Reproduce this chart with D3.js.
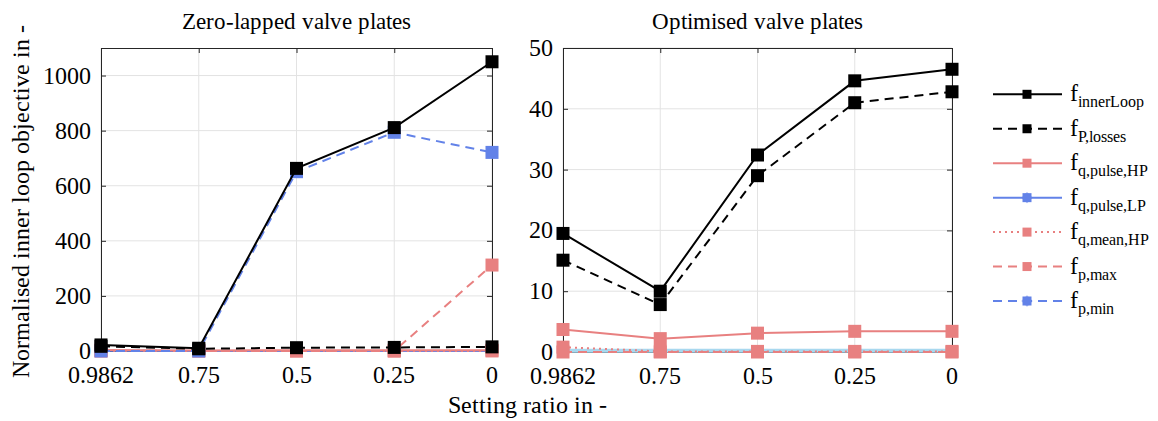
<!DOCTYPE html>
<html>
<head>
<meta charset="utf-8">
<script src="https://cdn.jsdelivr.net/npm/d3@7"></script>
<style>
  @font-face { font-family: 'ChartSerif'; src: local('Liberation Serif'), local('LiberationSerif'), local('LiberationSerif-Regular'); }
  body { margin: 0; background: #fff; }
</style>
</head>
<body>
<div id="chart"></div>
<script>
// setting ratios (categorical, shown left to right)
const ratios = ['0.9862', '0.75', '0.5', '0.25', '0'];

// zero-lapped valve plates
const zlInnerLoop = [22, 10, 663, 811, 1050];
const zlLosses    = [17, 8, 12, 13, 15];
const zlPulseHP   = [3.5, 2, 3, 3, 3];
const zlPulseLP   = [0.5, 0.3, 0.3, 0.3, 0.3];
const zlMeanHP    = [1, 0.2, 0.2, 0.2, 0.2];
const zlPMax      = [0, 0, 0, 0, 312];
const zlPMin      = [0, 0, 651, 794, 721];

// optimised valve plates
const opInnerLoop = [19.5, 10.0, 32.4, 44.6, 46.5];
const opLosses    = [15.1, 7.8, 29.0, 41.0, 42.8];
const opPulseHP   = [3.7, 2.2, 3.1, 3.4, 3.4];
const opPulseLP   = [0.2, 0.2, 0.2, 0.2, 0.2];
const opMeanHP    = [0.8, 0.1, 0.1, 0.1, 0.1];
const opPMax      = [0, 0, 0, 0, 0];
const opPMin      = [0, 0, 0, 0, 0];

const zlTicks = [0, 200, 400, 600, 800, 1000];
const opTicks = [0, 10, 20, 30, 40, 50];

const BLACK = '#000', SALMON = '#e88080', BLUE = '#6282e8', LIGHTBLUE = '#a8d8ef';
const FONT = "ChartSerif, 'Liberation Serif', serif";

// legend entries, in legend order
const legendNames = ['innerLoop', 'P,losses', 'q,pulse,HP', 'q,pulse,LP', 'q,mean,HP', 'p,max', 'p,min'];
const styles = [
  { color: BLACK,  dash: null },
  { color: BLACK,  dash: '9,6' },
  { color: SALMON, dash: null },
  { color: BLUE,   dash: null, star: true },
  { color: SALMON, dash: '2,4' },
  { color: SALMON, dash: '9,6' },
  { color: BLUE,   dash: '9,6', star: true }
];

const W = 1158, H = 421;
const svg = d3.select('#chart').append('svg')
  .attr('width', W).attr('height', H);

function label(parent, x, y, size, str, anchor, rot) {
  return parent.append('text')
    .attr('transform', `translate(${x},${y})${rot ? ` rotate(${rot})` : ''}`)
    .attr('text-anchor', anchor || 'start')
    .attr('font-size', size)
    .style('font-family', FONT)
    .attr('fill', '#000')
    .text(str);
}

function panel(opts) {
  const { x0, x1, y0, y1, max, ticks, title, series } = opts;
  const x = d3.scalePoint().domain(ratios).range([x0, x1]);
  const y = d3.scaleLinear().domain([0, max]).range([y1, y0]);
  const g = svg.append('g');

  // grid
  g.append('g').selectAll('line').data(ratios).enter().append('line')
    .attr('x1', d => x(d)).attr('x2', d => x(d))
    .attr('y1', y0).attr('y2', y1)
    .attr('stroke', '#e3e3e3').attr('stroke-width', 1);
  g.append('g').selectAll('line').data(ticks).enter().append('line')
    .attr('x1', x0).attr('x2', x1)
    .attr('y1', d => y(d)).attr('y2', d => y(d))
    .attr('stroke', '#e3e3e3').attr('stroke-width', 1);

  // axes (box with inward ticks), labels drawn separately
  g.append('g').attr('transform', `translate(${x0},0)`)
    .call(d3.axisLeft(y).tickValues(ticks).tickSizeInner(-5).tickSizeOuter(0).tickFormat(''));
  g.append('g').attr('transform', `translate(${x1},0)`)
    .call(d3.axisRight(y).tickValues(ticks).tickSizeInner(-5).tickSizeOuter(0).tickFormat(''));
  g.append('g').attr('transform', `translate(0,${y1})`)
    .call(d3.axisBottom(x).tickSizeInner(-5).tickSizeOuter(0).tickFormat(''));
  g.append('g').attr('transform', `translate(0,${y0})`)
    .call(d3.axisTop(x).tickSizeInner(-5).tickSizeOuter(0).tickFormat(''));
  g.selectAll('.domain, .tick line').attr('stroke', '#262626');

  ticks.forEach(t => label(g, x0 - 10, y(t) + 8, 24, d3.format('d')(t), 'end'));
  ratios.forEach(r => label(g, x(r), y1 + 32, 24, r, 'middle'));

  label(g, (x0 + x1) / 2, 29, 23, title, 'middle');

  const line = d3.line().x((d, i) => x(ratios[i])).y(d => y(d));
  series.forEach(s => {
    const st = styles[s.idx];
    const col = s.color || st.color;
    g.append('path').datum(s.values)
      .attr('d', line).attr('fill', 'none')
      .attr('stroke', col).attr('stroke-width', s.width || 2)
      .attr('stroke-dasharray', st.dash);
    if (s.noMarkers) return;
    g.append('g').selectAll('rect').data(s.values).enter().append('rect')
      .attr('x', (d, i) => x(ratios[i]) - 6.5)
      .attr('y', d => y(d) - 6.5)
      .attr('width', 13).attr('height', 13)
      .attr('fill', col);
  });
}

panel({
  x0: 101, x1: 492, y0: 48, y1: 351, max: 1100, ticks: zlTicks,
  title: 'Zero-lapped valve plates',
  series: [
    { idx: 3, values: zlPulseLP, noMarkers: true },
    { idx: 2, values: zlPulseHP },
    { idx: 4, values: zlMeanHP },
    { idx: 5, values: zlPMax },
    { idx: 6, values: zlPMin },
    { idx: 1, values: zlLosses },
    { idx: 0, values: zlInnerLoop }
  ]
});

panel({
  x0: 563, x1: 952, y0: 48, y1: 352, max: 50, ticks: opTicks,
  title: 'Optimised valve plates',
  series: [
    { idx: 3, values: opPulseLP, color: LIGHTBLUE, width: 4, noMarkers: true },
    { idx: 6, values: opPMin, noMarkers: true },
    { idx: 2, values: opPulseHP },
    { idx: 4, values: opMeanHP },
    { idx: 5, values: opPMax },
    { idx: 1, values: opLosses },
    { idx: 0, values: opInnerLoop }
  ]
});

// axis labels
label(svg, 29, 201, 24, 'Normalised inner loop objective in -', 'middle', -90);
label(svg, 527, 413, 24, 'Setting ratio in -', 'middle');

// legend
const leg = svg.append('g');
legendNames.forEach((n, i) => {
  const st = styles[i];
  const ly = 94.3 + i * 34.45;
  leg.append('line')
    .attr('x1', 993).attr('x2', 1062).attr('y1', ly).attr('y2', ly)
    .attr('stroke', st.color).attr('stroke-width', 2)
    .attr('stroke-dasharray', st.dash);
  leg.append('rect')
    .attr('x', 1027 - 4.5).attr('y', ly - 4.5)
    .attr('width', 9).attr('height', 9).attr('fill', st.color);
  if (st.star) {
    leg.append('rect')
      .attr('x', 1027 - 4).attr('y', ly - 4)
      .attr('width', 8).attr('height', 8)
      .attr('transform', `rotate(45,1027,${ly})`)
      .attr('fill', st.color).attr('opacity', 0.6);
  }
  label(leg, 1070, ly + 7, 24, 'f');
  label(leg, 1078, ly + 13, 16, n);
});
</script>
</body>
</html>
